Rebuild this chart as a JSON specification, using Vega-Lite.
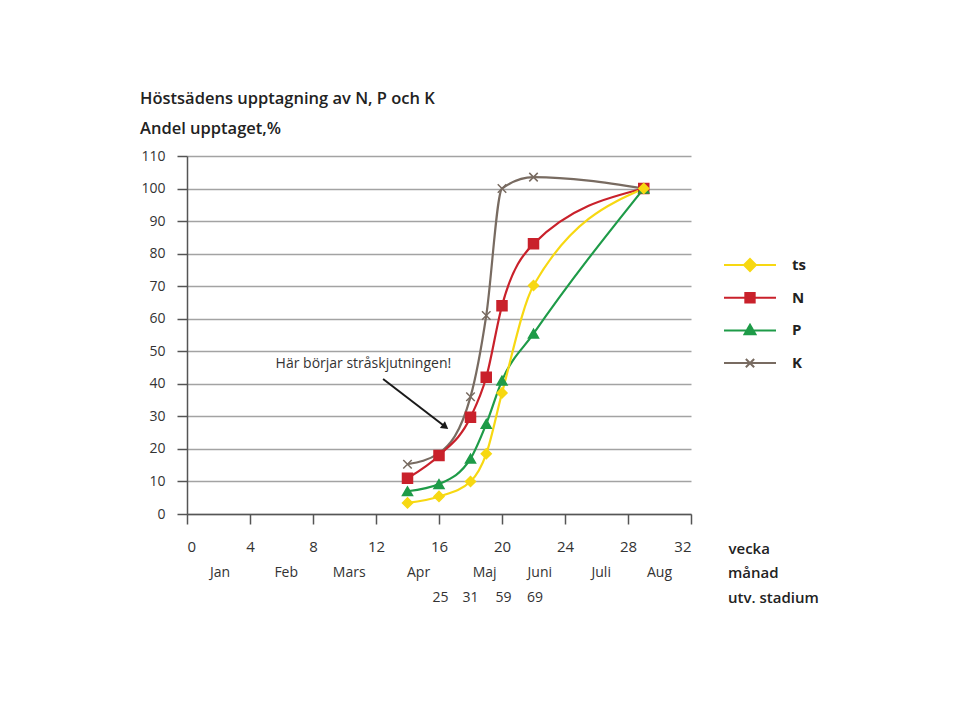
{
  "$schema": "https://vega.github.io/schema/vega-lite/v6.json",
  "width": 504,
  "height": 358,
  "autosize": {"type": "none"},
  "padding": {"left": 187, "top": 156, "right": 263, "bottom": 206},
  "background": "white",
  "config": {
    "view": {"stroke": null},
    "font": "Open Sans",
    "axis": {"labelFont": "Open Sans", "labelFontSize": 14, "labelColor": "#333333"}
  },
  "title": {
    "text": "Höstsädens upptagning av N, P och K",
    "subtitle": "Andel upptaget,%",
    "anchor": "start",
    "frame": "group",
    "dx": -47,
    "offset": 12,
    "font": "Open Sans",
    "subtitleFont": "Open Sans",
    "fontSize": 16.5,
    "subtitleFontSize": 16.5,
    "fontWeight": 600,
    "subtitleFontWeight": 600,
    "color": "#222222",
    "subtitleColor": "#222222",
    "subtitlePadding": 13
  },
  "datasets": {
    "naring": [
      {"vecka": 14, "andel": 15.3, "serie": "K"},
      {"vecka": 16, "andel": 18.7, "serie": "K"},
      {"vecka": 18, "andel": 36, "serie": "K"},
      {"vecka": 19, "andel": 61, "serie": "K"},
      {"vecka": 20, "andel": 100, "serie": "K"},
      {"vecka": 22, "andel": 103.5, "serie": "K"},
      {"vecka": 29, "andel": 100, "serie": "K"},
      {"vecka": 14, "andel": 11, "serie": "N"},
      {"vecka": 16, "andel": 18, "serie": "N"},
      {"vecka": 18, "andel": 29.7, "serie": "N"},
      {"vecka": 19, "andel": 42, "serie": "N"},
      {"vecka": 20, "andel": 64, "serie": "N"},
      {"vecka": 22, "andel": 83, "serie": "N"},
      {"vecka": 29, "andel": 100, "serie": "N"},
      {"vecka": 14, "andel": 7, "serie": "P"},
      {"vecka": 16, "andel": 9.2, "serie": "P"},
      {"vecka": 18, "andel": 17, "serie": "P"},
      {"vecka": 19, "andel": 27.7, "serie": "P"},
      {"vecka": 20, "andel": 41, "serie": "P"},
      {"vecka": 22, "andel": 55.4, "serie": "P"},
      {"vecka": 29, "andel": 100, "serie": "P"},
      {"vecka": 14, "andel": 3.4, "serie": "ts"},
      {"vecka": 16, "andel": 5.4, "serie": "ts"},
      {"vecka": 18, "andel": 10, "serie": "ts"},
      {"vecka": 19, "andel": 18.5, "serie": "ts"},
      {"vecka": 20, "andel": 37.2, "serie": "ts"},
      {"vecka": 22, "andel": 70.2, "serie": "ts"},
      {"vecka": 29, "andel": 100, "serie": "ts"}
    ],
    "manad": [
      {"vecka": 2.1, "text": "Jan"},
      {"vecka": 6.3, "text": "Feb"},
      {"vecka": 10.3, "text": "Mars"},
      {"vecka": 14.7, "text": "Apr"},
      {"vecka": 18.9, "text": "Maj"},
      {"vecka": 22.4, "text": "Juni"},
      {"vecka": 26.3, "text": "Juli"},
      {"vecka": 30.0, "text": "Aug"}
    ],
    "stadium": [
      {"vecka": 16.1, "text": "25"},
      {"vecka": 18.0, "text": "31"},
      {"vecka": 20.1, "text": "59"},
      {"vecka": 22.1, "text": "69"}
    ],
    "anteckning": [
      {"vecka": 11.2, "andel": 46, "text": "Här börjar stråskjutningen!", "vecka1": 12.45, "andel1": 41.5, "vecka2": 16.4, "andel2": 26.8}
    ]
  },
  "layer": [
    {
      "data": {"name": "naring"},
      "mark": {"type": "line", "interpolate": "monotone", "strokeWidth": 2.2},
      "encoding": {
        "x": {
          "field": "vecka", "type": "quantitative",
          "scale": {"domain": [0, 32], "nice": false, "zero": false},
          "axis": {
            "values": [0, 4, 8, 12, 16, 20, 24, 28, 32],
            "tickCount": 9,
            "grid": false,
            "labelFontSize": 15,
            "domainColor": "#555555", "domainWidth": 1.5,
            "tickColor": "#555555", "tickWidth": 1.5, "tickSize": 10,
            "labelPadding": 15,
            "title": "vecka",
            "titleX": 541, "titleY": 34, "titleAlign": "left", "titleBaseline": "middle",
            "titleFont": "Open Sans", "titleFontSize": 15, "titleFontWeight": 600, "titleColor": "#222222"
          }
        },
        "y": {
          "field": "andel", "type": "quantitative",
          "scale": {"domain": [0, 110], "nice": false},
          "axis": {
            "values": [0, 10, 20, 30, 40, 50, 60, 70, 80, 90, 100, 110],
            "tickCount": 12,
            "labelOverlap": false,
            "grid": true, "gridColor": "#a3a3a3", "gridWidth": 1.5,
            "domainColor": "#555555", "domainWidth": 1.5,
            "tickColor": "#555555", "tickWidth": 1.5, "tickSize": 10,
            "labelPadding": 12,
            "title": null
          }
        },
        "color": {
          "field": "serie", "type": "nominal",
          "scale": {"domain": ["ts", "N", "P", "K"], "range": ["#f7d812", "#c9212b", "#1e9b48", "#786b61"]},
          "legend": {
            "title": null,
            "orient": "none",
            "legendX": 536,
            "legendY": 99,
            "padding": 0,
            "symbolSize": 2704,
            "symbolStrokeWidth": 2,
            "clipHeight": 20,
            "rowPadding": 12.7,
            "labelOffset": 15,
            "labelFont": "Open Sans",
            "labelFontSize": 15,
            "labelFontWeight": 700,
            "labelColor": "#222222",
            "encode": {
              "symbols": {
                "update": {
                  "shape": {"signal": "datum.value === 'ts' ? 'M-1,0H1M-0.23,0L0,-0.23L0.23,0L0,0.23Z' : datum.value === 'N' ? 'M-1,0H1M-0.18,-0.18H0.18V0.18H-0.18Z' : datum.value === 'P' ? 'M-1,0H1M-0.21,0.15L0,-0.22L0.21,0.15Z' : 'M-1,0H1M-0.16,-0.16L0.16,0.16M-0.16,0.16L0.16,-0.16'"},
                  "fill": {"signal": "scale('color', datum.value)"},
                  "stroke": {"signal": "scale('color', datum.value)"},
                  "strokeWidth": {"value": 2},
                  "opacity": {"value": 1}
                }
              }
            }
          }
        }
      }
    },
    {
      "data": {"name": "naring"},
      "transform": [{"filter": "!(datum.serie === 'K' && datum.vecka === 16)"}],
      "mark": {"type": "point", "filled": true, "size": 100, "strokeWidth": 1.5, "opacity": 1},
      "encoding": {
        "x": {"field": "vecka", "type": "quantitative"},
        "y": {"field": "andel", "type": "quantitative"},
        "fill": {
          "condition": [
            {"test": "datum.serie === 'ts'", "value": "#f7d812"},
            {"test": "datum.serie === 'N'", "value": "#c9212b"},
            {"test": "datum.serie === 'P'", "value": "#1e9b48"}
          ],
          "value": "#786b61"
        },
        "stroke": {
          "condition": [
            {"test": "datum.serie === 'ts'", "value": "#f7d812"},
            {"test": "datum.serie === 'N'", "value": "#c9212b"},
            {"test": "datum.serie === 'P'", "value": "#1e9b48"}
          ],
          "value": "#786b61"
        },
        "shape": {
          "condition": [
            {"test": "datum.serie === 'ts'", "value": "diamond"},
            {"test": "datum.serie === 'N'", "value": "square"},
            {"test": "datum.serie === 'P'", "value": "triangle-up"}
          ],
          "value": "M-0.85,-0.85L0.85,0.85M-0.85,0.85L0.85,-0.85"
        }
      }
    },
    {
      "data": {"name": "anteckning"},
      "mark": {"type": "text", "fontSize": 14, "color": "#333333", "font": "Open Sans"},
      "encoding": {
        "x": {"field": "vecka", "type": "quantitative"},
        "y": {"field": "andel", "type": "quantitative"},
        "text": {"field": "text", "type": "nominal"}
      }
    },
    {
      "data": {"name": "anteckning"},
      "mark": {"type": "rule", "color": "#1a1a1a", "strokeWidth": 2},
      "encoding": {
        "x": {"field": "vecka1", "type": "quantitative"},
        "y": {"field": "andel1", "type": "quantitative"},
        "x2": {"field": "vecka2"},
        "y2": {"field": "andel2"}
      }
    },
    {
      "data": {"name": "anteckning"},
      "mark": {"type": "point", "shape": "triangle-right", "filled": true, "color": "#1a1a1a", "size": 70, "angle": 37, "opacity": 1},
      "encoding": {
        "x": {"field": "vecka2", "type": "quantitative"},
        "y": {"field": "andel2", "type": "quantitative"}
      }
    },
    {
      "data": {"name": "manad"},
      "mark": {"type": "text", "fontSize": 14, "color": "#333333", "font": "Open Sans", "y": {"expr": "height + 59"}},
      "encoding": {
        "x": {"field": "vecka", "type": "quantitative"},
        "text": {"field": "text", "type": "nominal"}
      }
    },
    {
      "data": {"name": "stadium"},
      "mark": {"type": "text", "fontSize": 14, "color": "#333333", "font": "Open Sans", "y": {"expr": "height + 84"}},
      "encoding": {
        "x": {"field": "vecka", "type": "quantitative"},
        "text": {"field": "text", "type": "nominal"}
      }
    },
    {
      "data": {"values": [{"rad": "månad", "n": 1}, {"rad": "utv. stadium", "n": 2}]},
      "mark": {"type": "text", "fontSize": 15, "fontWeight": 600, "color": "#222222", "font": "Open Sans", "align": "left", "x": {"expr": "width + 37"}, "y": {"expr": "height + 34 + 25 * datum.n"}},
      "encoding": {
        "text": {"field": "rad", "type": "nominal"}
      }
    }
  ]
}
